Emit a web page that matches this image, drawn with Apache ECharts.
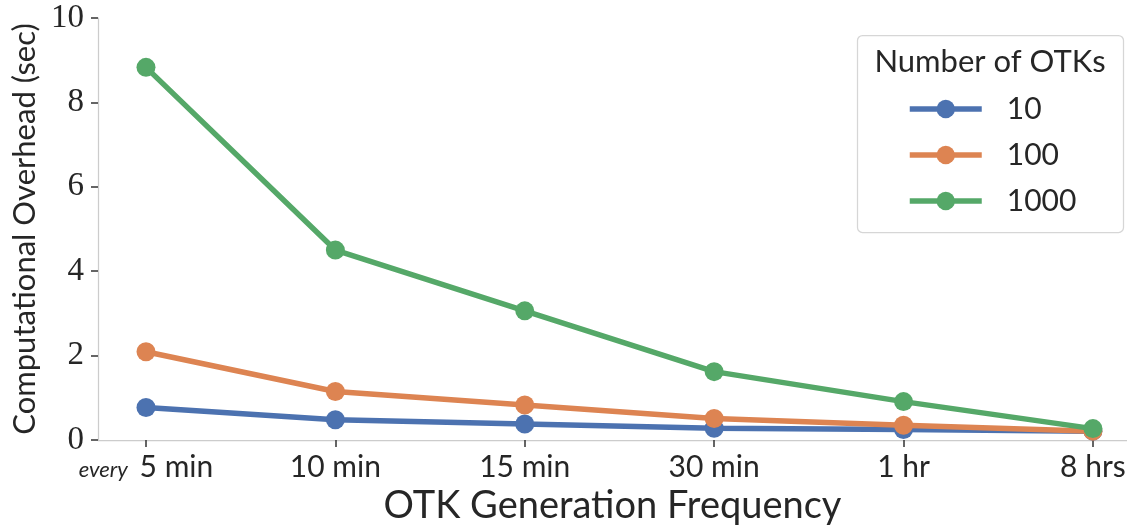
<!DOCTYPE html>
<html>
<head>
<meta charset="utf-8">
<script src="https://cdn.jsdelivr.net/npm/echarts@6/dist/echarts.min.js"></script>
<style>
  html, body { margin: 0; padding: 0; background: #fff; }
  #chart { width: 1127px; height: 526px; }
</style>
</head>
<body>
<div id="chart"></div>
<script>
// Generation intervals along the x axis
const categories = ['5 min', '10 min', '15 min', '30 min', '1 hr', '8 hrs'];
// Overhead in seconds for each OTK pool size
const otk10 = [0.77, 0.48, 0.38, 0.28, 0.25, 0.21];
const otk100 = [2.09, 1.15, 0.83, 0.51, 0.35, 0.21];
const otk1000 = [8.83, 4.50, 3.06, 1.62, 0.91, 0.27];
const seriesNames = ['10', '100', '1000'];
const yTicks = [0, 2, 4, 6, 8, 10];

const colors = ['#4c72b0', '#dd8452', '#55a868'];
const textColor = '#262626';
const sans = 'Lato';
const serif = 'Liberation Serif';

const toPoints = arr => arr.map((v, i) => [i, v]);
const tickIdx = categories.map((_, i) => i);

const chart = echarts.init(document.getElementById('chart'), null, { renderer: 'canvas' });

const lineSeries = [otk10, otk100, otk1000].map((vals, k) => ({
  name: seriesNames[k],
  type: 'line',
  data: toPoints(vals),
  symbol: 'circle',
  symbolSize: 19,
  lineStyle: { width: 5.5, color: colors[k] },
  itemStyle: { color: colors[k] },
  z: 2 + k,
  animation: false
}));

chart.setOption({
  animation: false,
  backgroundColor: '#fff',
  grid: { left: 98, right: 0, top: 18, bottom: 86, outerBoundsMode: 'none', containLabel: false },
  xAxis: {
    type: 'value',
    min: -0.2534,
    max: 5.18,
    name: 'OTK Generation Frequency',
    nameLocation: 'middle',
    nameGap: 46,
    nameTextStyle: { fontFamily: sans, fontSize: 38, color: textColor },
    axisLine: { show: true, onZero: false, lineStyle: { color: '#cccccc', width: 1.25 } },
    axisTick: {
      show: true, customValues: tickIdx, length: 7,
      lineStyle: { color: '#333', width: 1.5 }
    },
    axisLabel: {
      customValues: tickIdx,
      margin: 12,
      fontFamily: sans, fontSize: 30, color: textColor,
      formatter: v => (v === 0 ? '{e|every} ' : '') + categories[v],
      rich: { e: { fontFamily: sans, fontStyle: 'italic', fontSize: 22, color: textColor, padding: [6, 4, 0, 0] } }
    },
    splitLine: { show: false }
  },
  yAxis: {
    type: 'value',
    min: yTicks[0],
    max: yTicks[yTicks.length - 1],
    interval: 2,
    name: 'Computational Overhead (sec)',
    nameLocation: 'middle',
    nameGap: 56,
    nameTextStyle: { fontFamily: sans, fontSize: 31, color: textColor },
    axisLine: { show: true, onZero: false, lineStyle: { color: '#cccccc', width: 1.25 } },
    axisTick: { show: true, length: 7, lineStyle: { color: '#333', width: 1.5 } },
    axisLabel: { margin: 14, fontFamily: serif, fontSize: 33, color: textColor },
    splitLine: { show: false }
  },
  legend: {
    orient: 'vertical',
    left: 902,
    top: 89,
    z: 20,
    itemWidth: 72,
    itemHeight: 23,
    itemGap: 16,
    data: seriesNames,
    lineStyle: { width: 5.5 },
    textStyle: { fontFamily: sans, fontSize: 30, color: textColor, lineHeight: 30, padding: [0, 0, 0, 20] }
  },
  graphic: [
    {
      type: 'rect', z: 1,
      shape: { x: 857.5, y: 35.5, width: 266, height: 197, r: 5 },
      style: { fill: 'rgba(255,255,255,0.8)', stroke: '#d6d6d6', lineWidth: 1.25 }
    },
    {
      type: 'text', z: 21,
      style: {
        x: 990, y: 46, text: 'Number of OTKs', textAlign: 'center', textVerticalAlign: 'top',
        fontFamily: sans, fontSize: 31, fill: textColor
      }
    }
  ],
  series: lineSeries
});
</script>
</body>
</html>
